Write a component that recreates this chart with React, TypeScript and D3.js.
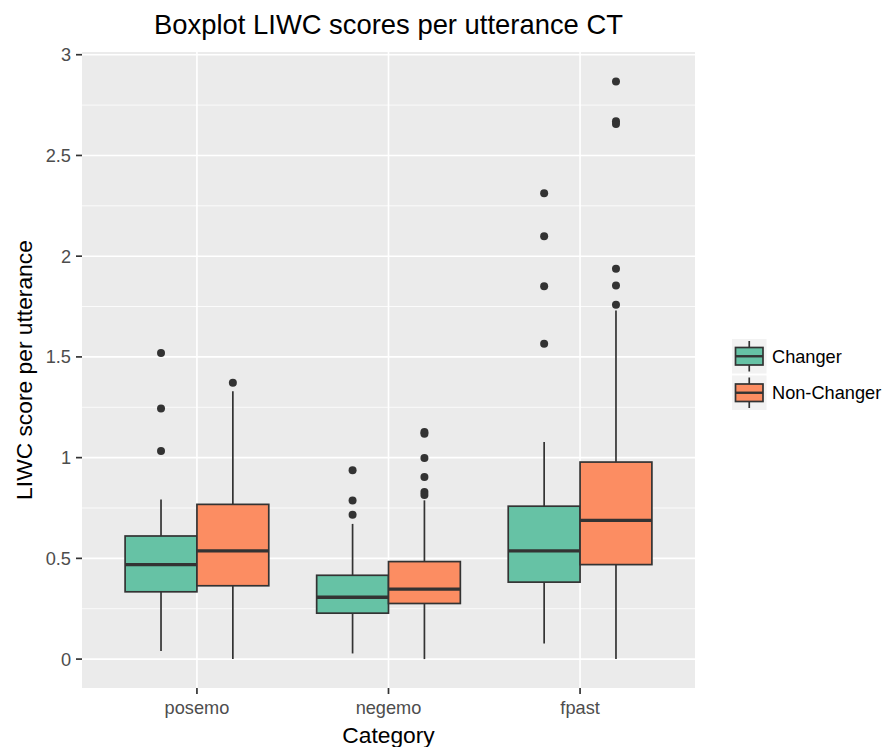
import React from "react";
import * as d3 from "d3";

const categories = ["posemo", "negemo", "fpast"];
const groups = ["Changer", "Non-Changer"];
const groupColors = ["#66C2A5", "#FC8D62"];

// [lowerWhisker, q1, median, q3, upperWhisker]
const changerStats = [
  [0.04, 0.334, 0.469, 0.611, 0.792],
  [0.028, 0.228, 0.307, 0.416, 0.671],
  [0.078, 0.382, 0.537, 0.759, 1.077],
];
const nonChangerStats = [
  [0, 0.364, 0.537, 0.768, 1.329],
  [0, 0.276, 0.347, 0.484, 0.788],
  [0, 0.469, 0.689, 0.978, 1.73],
];
const changerOutliers = [
  [1.519, 1.244, 1.033],
  [0.937, 0.787, 0.717],
  [2.312, 2.099, 1.851, 1.565],
];
const nonChangerOutliers = [
  [1.372],
  [1.127, 1.118, 0.998, 0.904, 0.83, 0.815],
  [2.867, 2.67, 2.656, 1.937, 1.854, 1.759],
];
const yTicks = [0, 0.5, 1, 1.5, 2, 2.5, 3];
const yMinor = [0.25, 0.75, 1.25, 1.75, 2.25, 2.75];

const W = 885;
const H = 747;
const panel = { left: 82, right: 695, top: 52, bottom: 688 };
const font = "'Liberation Sans', Arial, sans-serif";
const tickFont = 18.2;

export default function App() {
  const x = d3.scalePoint<string>().domain(categories).range([panel.left, panel.right]).padding(0.6);
  const step = x.step();
  const y = d3.scaleLinear().domain([-0.1435, 3.0135]).range([panel.bottom, panel.top]);
  const boxW = step * 0.375;

  const statsByGroup = [changerStats, nonChangerStats];
  const outByGroup = [changerOutliers, nonChangerOutliers];

  return (
    <svg width={W} height={H} style={{ display: "block", position: "absolute", left: 0, top: 0 }} fontFamily={font}>
      <rect width={W} height={H} fill="#fff" />
      <rect x={panel.left} y={panel.top} width={panel.right - panel.left} height={panel.bottom - panel.top} fill="#EBEBEB" />
      {yMinor.map((t) => (
        <line key={"mn" + t} x1={panel.left} x2={panel.right} y1={y(t)} y2={y(t)} stroke="#fff" strokeWidth={0.8} />
      ))}
      {yTicks.map((t) => (
        <line key={"mj" + t} x1={panel.left} x2={panel.right} y1={y(t)} y2={y(t)} stroke="#fff" strokeWidth={1.6} />
      ))}
      {categories.map((c) => (
        <line key={"vx" + c} x1={x(c)} x2={x(c)} y1={panel.top} y2={panel.bottom} stroke="#fff" strokeWidth={1.6} />
      ))}
      {categories.map((c, ci) =>
        groups.map((g, gi) => {
          const s = statsByGroup[gi][ci];
          const cx = (x(c) as number) + (gi === 0 ? -boxW / 2 : boxW / 2);
          const x0 = cx - boxW / 2;
          return (
            <g key={c + g}>
              <line x1={cx} x2={cx} y1={y(s[0])} y2={y(s[1])} stroke="#333" strokeWidth={1.7} />
              <line x1={cx} x2={cx} y1={y(s[3])} y2={y(s[4])} stroke="#333" strokeWidth={1.7} />
              <rect x={x0} y={y(s[3])} width={boxW} height={y(s[1]) - y(s[3])} fill={groupColors[gi]} stroke="#333" strokeWidth={1.7} />
              <line x1={x0} x2={x0 + boxW} y1={y(s[2])} y2={y(s[2])} stroke="#333" strokeWidth={3.3} />
              {outByGroup[gi][ci].map((v, i) => (
                <circle key={i} cx={cx} cy={y(v)} r={4} fill="#333" />
              ))}
            </g>
          );
        })
      )}
      {yTicks.map((t) => (
        <g key={"yt" + t}>
          <line x1={panel.left - 6} x2={panel.left} y1={y(t)} y2={y(t)} stroke="#333" strokeWidth={1.7} />
          <text x={panel.left - 11} y={y(t)} dy="0.36em" textAnchor="end" fontSize={tickFont} fill="#4D4D4D">
            {String(t)}
          </text>
        </g>
      ))}
      {categories.map((c) => (
        <g key={"xt" + c}>
          <line x1={x(c)} x2={x(c)} y1={panel.bottom} y2={panel.bottom + 6} stroke="#333" strokeWidth={1.7} />
          <text x={x(c)} y={714} textAnchor="middle" fontSize={tickFont} fill="#4D4D4D">
            {c}
          </text>
        </g>
      ))}
      <text x={(panel.left + panel.right) / 2} y={743} textAnchor="middle" fontSize={22.8} fill="#000">
        Category
      </text>
      <text transform={`translate(31.5,${(panel.top + panel.bottom) / 2}) rotate(-90)`} textAnchor="middle" fontSize={22.8} fill="#000">
        LIWC score per utterance
      </text>
      <text x={(panel.left + panel.right) / 2} y={34} textAnchor="middle" fontSize={27.4} fill="#000">
        Boxplot LIWC scores per utterance CT
      </text>
      {groups.map((g, gi) => {
        const ky = 339 + gi * 36.5;
        const kx = 732;
        const ks = 34.5;
        const bx = kx + 3.5;
        const bw = ks - 7;
        return (
          <g key={"lg" + g}>
            <rect x={kx} y={ky} width={ks} height={ks} fill="#F2F2F2" />
            <line x1={kx + ks / 2} x2={kx + ks / 2} y1={ky + 2} y2={ky + ks - 2} stroke="#333" strokeWidth={1.7} />
            <rect x={bx} y={ky + 8.5} width={bw} height={ks - 17} fill={groupColors[gi]} stroke="#333" strokeWidth={1.7} />
            <line x1={bx} x2={bx + bw} y1={ky + ks / 2} y2={ky + ks / 2} stroke="#333" strokeWidth={2.4} />
            <text x={772} y={ky + ks / 2} dy="0.36em" fontSize={tickFont} fill="#000">
              {g}
            </text>
          </g>
        );
      })}
    </svg>
  );
}
